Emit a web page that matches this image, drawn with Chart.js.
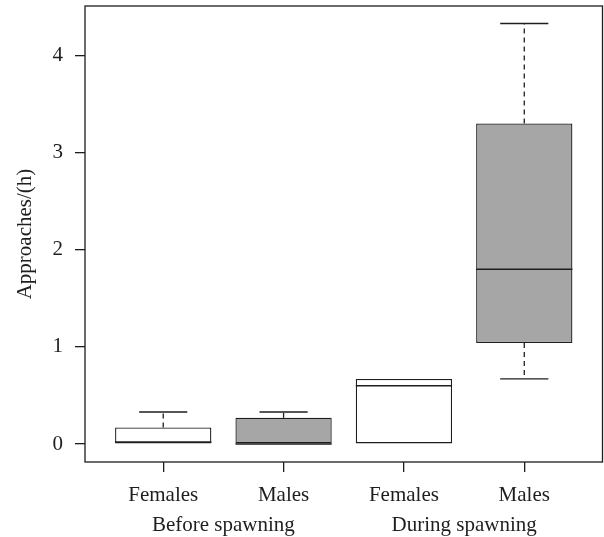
<!DOCTYPE html>
<html>
<head>
<meta charset="utf-8">
<script src="https://cdn.jsdelivr.net/npm/chart.js@4"></script>
<style>
  html, body { margin: 0; padding: 0; background: #ffffff; }
  #wrap { width: 604px; height: 537px; }
</style>
</head>
<body>
<div id="wrap"><canvas id="c" width="604" height="537"></canvas></div>
<script>
// ---- data ----
const categories = ['Females', 'Males', 'Females', 'Males'];
const groups = ['Before spawning', 'During spawning'];
const positions = [1, 2, 3, 4];
const groupPositions = [1.5, 3.5];
const mins    = [0,    0,    0,    0.67];
const q1s     = [0,    0,    0,    1.04];
const medians = [0.02, 0,    0.6,  1.8];
const q3s     = [0.17, 0.27, 0.67, 3.3];
const maxs    = [0.33, 0.33, 0.67, 4.33];
const yTicks  = [0, 1, 2, 3, 4];

const INK = '#1e1e1e';
const GRAY = '#a6a6a6';
const fills = ['#ffffff', GRAY, '#ffffff', GRAY];
const FONT = { family: '"Liberation Serif", "Times New Roman", serif', size: 21 };

const boxPlugin = {
  id: 'boxExtras',
  afterDatasetsDraw(chart) {
    const xs = chart.scales.x, ys = chart.scales.y, ctx = chart.ctx;
    ctx.save();
    ctx.strokeStyle = INK;
    ctx.lineWidth = 1.3;
    positions.forEach((p, i) => {
      const cx = xs.getPixelForValue(p);
      const bl = xs.getPixelForValue(p - 0.4), br = xs.getPixelForValue(p + 0.4);
      const cl = xs.getPixelForValue(p - 0.2), cr = xs.getPixelForValue(p + 0.2);
      ctx.setLineDash([5, 4]);
      if (maxs[i] > q3s[i]) {
        ctx.beginPath(); ctx.moveTo(cx, ys.getPixelForValue(q3s[i])); ctx.lineTo(cx, ys.getPixelForValue(maxs[i])); ctx.stroke();
      }
      if (mins[i] < q1s[i]) {
        ctx.beginPath(); ctx.moveTo(cx, ys.getPixelForValue(q1s[i])); ctx.lineTo(cx, ys.getPixelForValue(mins[i])); ctx.stroke();
      }
      ctx.setLineDash([]);
      if (maxs[i] > q3s[i]) {
        const y = ys.getPixelForValue(maxs[i]);
        ctx.beginPath(); ctx.moveTo(cl, y); ctx.lineTo(cr, y); ctx.stroke();
      }
      if (mins[i] < q1s[i]) {
        const y = ys.getPixelForValue(mins[i]);
        ctx.beginPath(); ctx.moveTo(cl, y); ctx.lineTo(cr, y); ctx.stroke();
      }
      const my = ys.getPixelForValue(medians[i]);
      ctx.lineWidth = 1.6;
      ctx.beginPath(); ctx.moveTo(bl, my); ctx.lineTo(br, my); ctx.stroke();
      ctx.lineWidth = 1.3;
    });
    ctx.restore();
  },
  afterDraw(chart) {
    const a = chart.chartArea, ctx = chart.ctx;
    ctx.save();
    ctx.strokeStyle = INK;
    ctx.lineWidth = 1.3;
    ctx.strokeRect(a.left, a.top, a.right - a.left, a.bottom - a.top);
    ctx.restore();
  }
};

const noPad = s => { s.paddingTop = 0; s.paddingBottom = 0; s.paddingLeft = 0; s.paddingRight = 0; };

new Chart(document.getElementById('c'), {
  type: 'bar',
  data: {
    datasets: [{
      data: positions.map((p, i) => ({ x: p, y: [q1s[i], q3s[i]] })),
      backgroundColor: fills,
      borderColor: INK,
      borderWidth: 1.3,
      borderSkipped: false,
      barPercentage: 0.8,
      categoryPercentage: 1
    }]
  },
  options: {
    responsive: false,
    animation: false,
    events: [],
    layout: { padding: { top: 6, right: 1.5, bottom: 0, left: 0 } },
    plugins: { legend: { display: false }, tooltip: { enabled: false } },
    scales: {
      x: {
        type: 'linear', position: 'bottom', min: 0.35, max: 4.65, offset: false,
        afterBuildTicks: s => { s.ticks = positions.map(v => ({ value: v })); },
        afterFit: s => { s.height = 45; noPad(s); },
        ticks: {
          color: INK, font: FONT, padding: 11, maxRotation: 0, autoSkip: false,
          callback: (v) => categories[positions.indexOf(v)]
        },
        grid: { offset: false, drawOnChartArea: false, drawTicks: true, tickLength: 10, color: INK, lineWidth: 1.3 },
        border: { display: false }
      },
      x2: {
        type: 'linear', position: 'bottom', min: 0.35, max: 4.65, offset: false,
        afterBuildTicks: s => { s.ticks = groupPositions.map(v => ({ value: v })); },
        afterFit: s => { s.height = 30; noPad(s); },
        ticks: {
          color: INK, font: FONT, padding: 6, maxRotation: 0, autoSkip: false,
          callback: (v) => groups[groupPositions.indexOf(v)]
        },
        grid: { offset: false, display: false, drawTicks: false },
        border: { display: false }
      },
      y: {
        type: 'linear', min: -0.185, max: 4.51,
        afterBuildTicks: s => { s.ticks = yTicks.map(v => ({ value: v })); },
        afterFit: s => { s.width = 85; noPad(s); },
        ticks: { color: INK, font: FONT, padding: 12, callback: v => String(v) },
        grid: { drawOnChartArea: false, drawTicks: true, tickLength: 10, color: INK, lineWidth: 1.3 },
        border: { display: false },
        title: { display: true, text: 'Approaches/(h)', color: INK, font: FONT, padding: { top: 13, bottom: 0 } }
      }
    }
  },
  plugins: [boxPlugin]
});
</script>
</body>
</html>
